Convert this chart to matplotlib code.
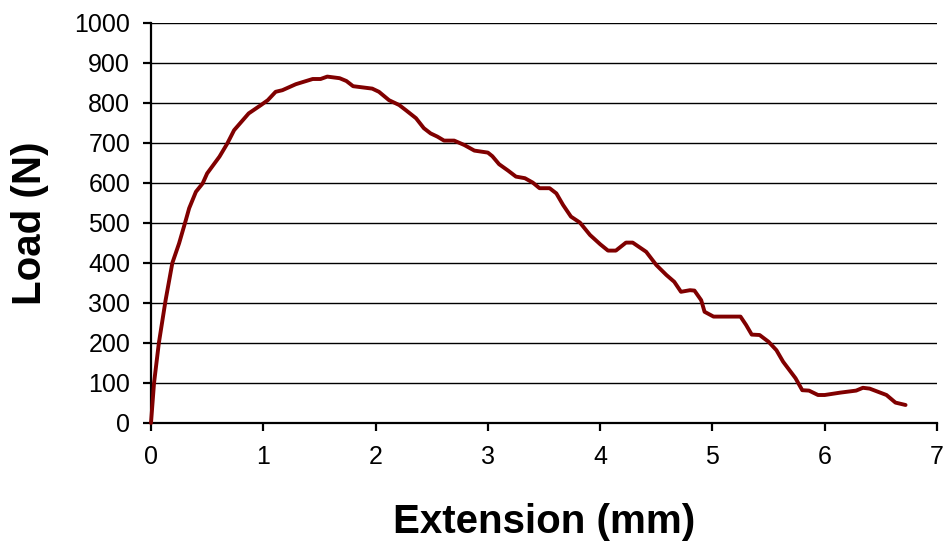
import matplotlib
matplotlib.use('Agg')
import matplotlib.pyplot as plt

# extension (mm) vs load (N)
extension = [0.0, 0.027, 0.07, 0.13, 0.19, 0.25, 0.31, 0.34, 0.40, 0.46, 0.50,
             0.61, 0.68, 0.74, 0.87, 0.98, 1.04, 1.11, 1.17, 1.29, 1.44, 1.51,
             1.57, 1.68, 1.74, 1.80, 1.97, 2.03, 2.12, 2.21, 2.27, 2.36, 2.43,
             2.49, 2.55, 2.61, 2.70, 2.79, 2.88, 3.00, 3.04, 3.10, 3.18, 3.25,
             3.33, 3.40, 3.46, 3.55, 3.61, 3.67, 3.74, 3.82, 3.91, 4.00, 4.07,
             4.14, 4.23, 4.29, 4.41, 4.50, 4.59, 4.66, 4.72, 4.80, 4.84, 4.90,
             4.93, 5.01, 5.25, 5.30, 5.35, 5.42, 5.50, 5.57, 5.63, 5.74, 5.80,
             5.86, 5.94, 6.00, 6.14, 6.28, 6.34, 6.40, 6.55, 6.63, 6.72]
load = [0, 100, 200, 307, 400, 449, 507, 537, 578, 599, 624,
        666, 699, 732, 774, 795, 807, 828, 832, 847, 860, 860,
        866, 862, 855, 842, 836, 828, 807, 795, 782, 762, 737,
        724, 716, 706, 706, 695, 681, 676, 667, 647, 631, 616,
        612, 601, 587, 587, 574, 545, 516, 501, 470, 447, 431,
        431, 451, 451, 428, 395, 370, 353, 328, 332, 331, 307,
        278, 266, 266, 245, 221, 220, 203, 182, 153, 112, 82,
        81, 70, 70, 76, 81, 88, 86, 70, 51, 45]

x_ticks = [0, 1, 2, 3, 4, 5, 6, 7]
y_ticks = list(range(0, 1001, 100))

plt.rcParams['font.family'] = ['Liberation Sans', 'DejaVu Sans']

fig = plt.figure(figsize=(9.51, 5.49), dpi=100)
ax = fig.add_axes([151 / 951, 1 - 423 / 549, (937 - 151) / 951, 400 / 549])

ax.plot(extension, load, color='#800000', linewidth=2.8, solid_joinstyle='round',
        solid_capstyle='round', zorder=3, clip_on=False)

ax.set_xlim(0, 7)
ax.set_ylim(0, 1000)
ax.set_xticks(x_ticks)
ax.set_yticks(y_ticks)
ax.yaxis.grid(True, color='black', linewidth=1.0)
ax.set_axisbelow(True)

for side in ['top', 'right']:
    ax.spines[side].set_visible(False)
for side in ['left', 'bottom']:
    ax.spines[side].set_linewidth(1.6)
    ax.spines[side].set_color('black')

ax.tick_params(axis='both', direction='out', length=6, width=1.6, labelsize=18,
               colors='black')
ax.tick_params(axis='y', pad=9)
ax.tick_params(axis='x', pad=10)

ax.set_xlabel('Extension (mm)', fontsize=29, fontweight='bold', labelpad=24)
ax.set_ylabel('Load (N)', fontsize=29, fontweight='bold', labelpad=18)

fig.savefig('out.png', dpi=100, facecolor='white')
